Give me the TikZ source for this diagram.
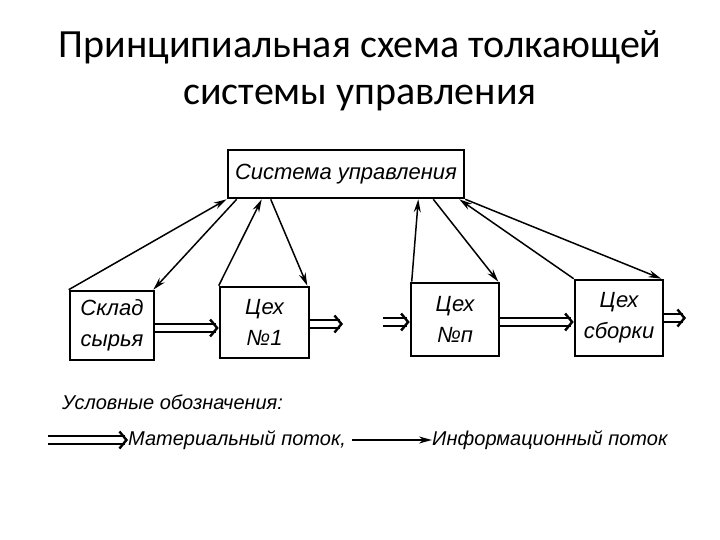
\documentclass[tikz,border=0pt]{standalone}
\usepackage{fontspec}
\setmainfont{Carlito}
\newfontfamily\handfont{Liberation Sans}
\usetikzlibrary{arrows.meta}

\tikzset{
    unit/.style={draw, line width=2.6pt, inner sep=0pt, align=center,
        font=\handfont\itshape\fontsize{22}{31}\selectfont},
    info/.style={line width=1.5pt, -{Stealth[length=13pt,width=7pt]}},
    mat/.style={double, line width=2.2pt, double distance=6.5pt,
        -{Straight Barb[length=7pt,width=17pt,line width=2.4pt]}},
    legend/.style={anchor=west, inner sep=0pt, font=\handfont\itshape\fontsize{20}{24}\selectfont}
}

\begin{document}
\begin{tikzpicture}[x=1pt, y=-1pt]
    \useasboundingbox (0,0) rectangle (720,540);
    \node[align=center, font=\fontsize{40}{47}\selectfont] (title) at (360,71) {Принципиальная схема толкающей\\системы управления};

    \node[unit, minimum width=236pt, minimum height=48pt] (sys) at (346,174) {Система управления};
    \node[unit, minimum width=84pt, minimum height=69pt] (sklad) at (112,325.5) {Склад\\сырья};
    \node[unit, minimum width=89pt, minimum height=71pt] (ceh1) at (264.5,322.5) {Цех\\№1};
    \node[unit, minimum width=88pt, minimum height=73pt] (cehn) at (455,319.5) {Цех\\№п};
    \node[unit, minimum width=88pt, minimum height=76pt] (sborka) at (619,318) {Цех\\сборки};

    \draw[info] (sklad.north west) -- (sys.south west);
    \draw[info] ([xshift=10pt]sys.south west) -- ([xshift=-2pt]sklad.north east);
    \draw[info] (ceh1.north west) -- ([xshift=35pt]sys.south west);
    \draw[info] ([xshift=44pt]sys.south west) -- ([xshift=-3pt]ceh1.north east);
    \draw[info] ([xshift=2pt]cehn.north west) -- ([xshift=-47pt]sys.south east);
    \draw[info] ([xshift=-32pt]sys.south east) -- ([xshift=-2pt]cehn.north east);
    \draw[info] (sborka.north west) -- ([xshift=-6pt]sys.south east);
    \draw[info] (sys.south east) -- ([xshift=-3pt]sborka.north east);

    \coordinate (out1) at (343,324);
    \coordinate (inn) at (383,322);
    \coordinate (out2) at (686,318);
    \draw[mat] (sklad.east |- 0,328) -- (ceh1.west |- 0,328);
    \draw[mat] (ceh1.east |- 0,324) -- (out1);
    \draw[mat] (inn) -- (cehn.west |- 0,322);
    \draw[mat] (cehn.east |- 0,322) -- (sborka.west |- 0,322);
    \draw[mat] (sborka.east |- 0,318) -- (out2);

    \node[legend] (key) at (62,402) {Условные обозначения:};
    \coordinate (matfrom) at (48,440);
    \node[legend] (matlab) at (128,440) {Материальный поток,};
    \node[legend] (infolab) at (432,440) {Информационный поток};
    \draw[mat] (matfrom) -- (matlab.west);
    \draw[info] ([xshift=6pt]matlab.east) -- (infolab.west);
\end{tikzpicture}
\end{document}
